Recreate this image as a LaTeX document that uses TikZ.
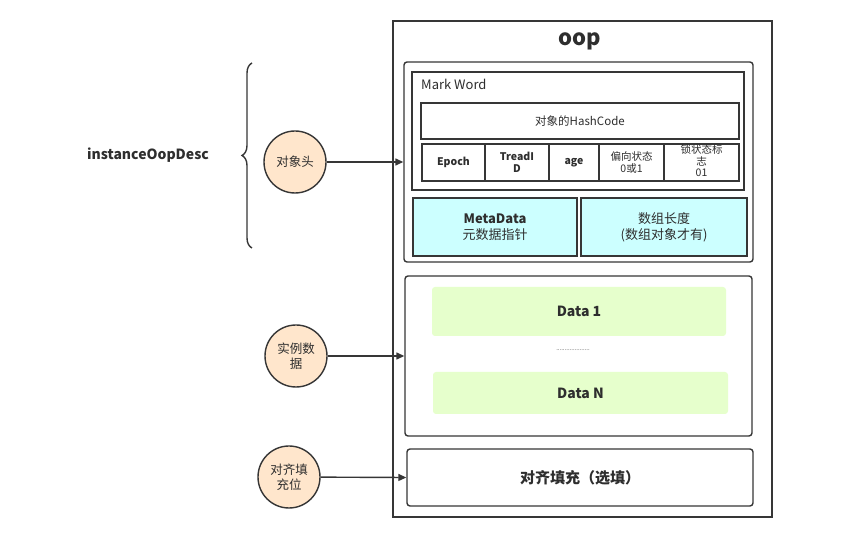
\documentclass[tikz,border=0pt]{standalone}
\usepackage{fontspec}
\setmainfont{Noto Sans CJK SC}
\usetikzlibrary{arrows.meta,decorations.pathreplacing}
\definecolor{ln}{HTML}{363636}
\definecolor{peach}{HTML}{FFE6CC}
\definecolor{cyanf}{HTML}{CCFFFF}
\definecolor{greenf}{HTML}{E6FFCC}
\definecolor{txt}{HTML}{2E2E2E}
\begin{document}
\begin{tikzpicture}[x=1pt,y=-1pt,
  every node/.style={text=txt, inner sep=0pt, align=center},
  frame/.style={draw=ln, line width=1.4pt, fill=white},
  rbox/.style={frame, rounded corners=3pt},
  cell/.style={draw=ln, line width=1.4pt, font=\fontsize{10.5}{11.5}\selectfont},
  metabox/.style={draw=ln, line width=1.4pt, fill=cyanf, font=\fontsize{13}{16}\selectfont},
  databox/.style={fill=greenf, rounded corners=3pt, font=\bfseries\fontsize{14}{16}\selectfont},
  circ/.style={circle, draw=ln, line width=1.4pt, fill=peach, minimum size=62pt, font=\fontsize{12.5}{15}\selectfont},
  conn/.style={draw=ln, line width=1.4pt, -{Triangle[length=8pt,width=7pt]}}
]
\useasboundingbox (0,0) rectangle (847,534);
\fill[white] (0,0) rectangle (847,534);

% outer
\node[frame, minimum width=379pt, minimum height=496pt] (outer) at (582.5,269) {};
\node[font=\bfseries\fontsize{22}{24}\selectfont] (title) at (580,41) {oop};

% header
\node[rbox, minimum width=349pt, minimum height=200pt] (header) at (578.5,162) {};
\node[frame, minimum width=332pt, minimum height=118pt] (mark) at (578,131) {};
\node[anchor=west, font=\fontsize{13}{15}\selectfont] (marklbl) at (421,84) {Mark Word};
\node[cell, minimum width=318pt, minimum height=36pt, font=\fontsize{11.5}{13}\selectfont] (hash) at (580,121) {对象的HashCode};
\node[cell, minimum width=63pt, minimum height=37pt, font=\bfseries\fontsize{10.5}{11}\selectfont] (c1) at (453.5,162.5) {Epoch};
\node[cell, minimum width=64pt, minimum height=37pt, font=\bfseries\fontsize{10.5}{11.5}\selectfont] (c2) at (517,162.5) {TreadI\\D};
\node[cell, minimum width=50pt, minimum height=37pt, font=\bfseries\fontsize{10.5}{11}\selectfont] (c3) at (574,162.5) {age};
\node[cell, minimum width=65pt, minimum height=37pt] (c4) at (631.5,162.5) {偏向状态\\0或1};
\node[cell, minimum width=75pt, minimum height=37pt] (c5) at (701.5,162.5) {};
\node[font=\fontsize{10.5}{11.5}\selectfont] (c5t) at (701.5,161) {锁状态标\\志\\01};
\node[metabox, minimum width=164pt, minimum height=58pt] (meta) at (495,227) {\textbf{MetaData}\\元数据指针};
\node[metabox, minimum width=166pt, minimum height=58pt] (alen) at (664,227) {数组长度\\(数组对象才有)};

% data
\node[rbox, minimum width=347pt, minimum height=160pt] (data) at (578.5,356) {};
\node[databox, minimum width=294pt, minimum height=49pt] (d1) at (579,311.5) {Data 1};
\node[font=\fontsize{6}{7}\selectfont] (dots) at (573,350) {....................};
\node[databox, minimum width=295pt, minimum height=42pt] (dn) at (580.5,393) {Data N};

% align
\node[rbox, minimum width=346pt, minimum height=57pt, font=\bfseries\fontsize{15}{17}\selectfont] (align) at (580,477.5) {对齐填充（选填）};

% circles
\node[circ] (oh) at (295,162) {对象头};
\node[circ] (inst) at (296,356) {实例数\\据};
\node[circ] (pad) at (289,477) {对齐填\\充位};
\draw[conn] (oh) -- (header.west);
\draw[conn] (inst) -- (data.west);
\draw[conn] (pad) -- (align.west);

% brace and label
\draw[ln, line width=1.4pt, decorate, decoration={brace, amplitude=10pt}] (252,248) -- (252,63);
\node[font=\bfseries\fontsize{14}{16}\selectfont] (desc) at (148,155) {instanceOopDesc};
\end{tikzpicture}
\end{document}
